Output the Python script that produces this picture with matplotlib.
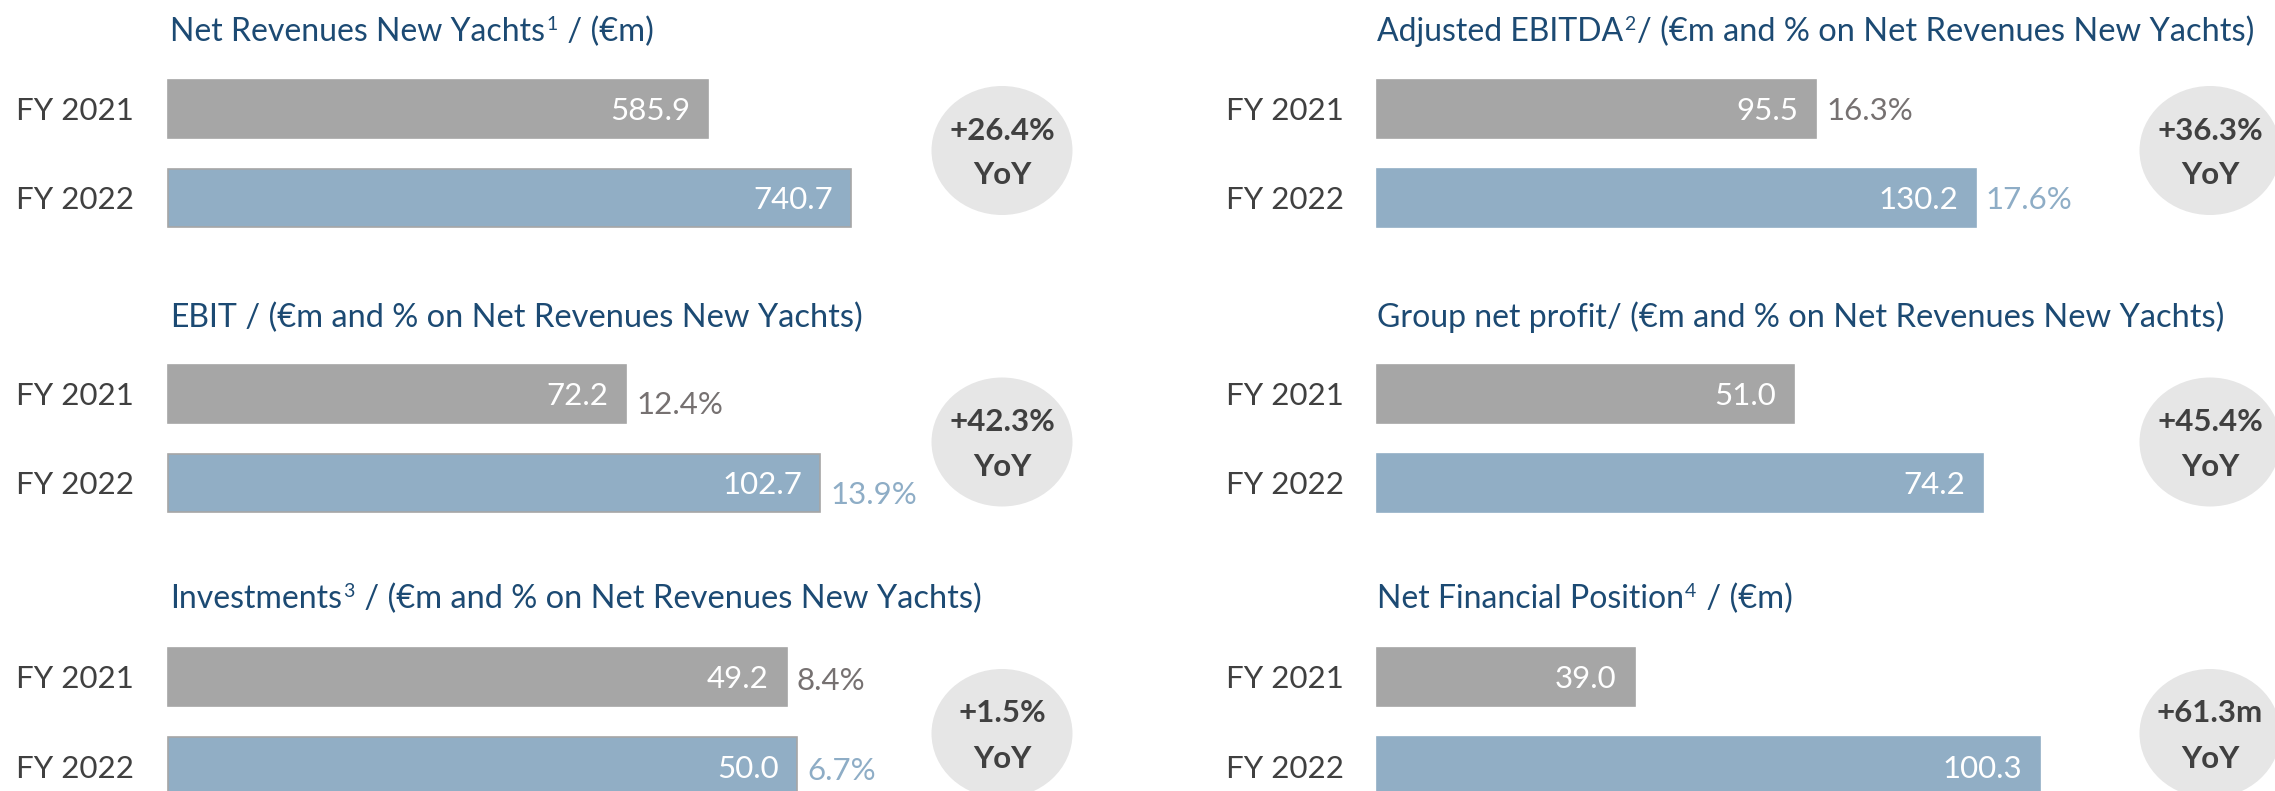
import matplotlib
matplotlib.use("Agg")
import matplotlib.pyplot as plt
import matplotlib.transforms as mtransforms
from matplotlib.patches import Ellipse

plt.rcParams['font.family'] = ['Lato', 'DejaVu Sans']

# KPI figures, FY 2021 vs FY 2022 (panels in reading order: left, right, next row)
titles = ["Net Revenues New Yachts", "Adjusted EBITDA", "EBIT",
          "Group net profit", "Investments", "Net Financial Position"]
notes = ["1", "2", "", "", "3", "4"]
units = [" / (€m)",
         "/ (€m and % on Net Revenues New Yachts)",
         " / (€m and % on Net Revenues New Yachts)",
         "/ (€m and % on Net Revenues New Yachts)",
         " / (€m and % on Net Revenues New Yachts)",
         " / (€m)"]
years = ["FY 2021", "FY 2022"]
values_2021 = [585.9, 95.5, 72.2, 51.0, 49.2, 39.0]
values_2022 = [740.7, 130.2, 102.7, 74.2, 50.0, 100.3]
margin_2021 = [None, 16.3, 12.4, None, 8.4, None]
margin_2022 = [None, 17.6, 13.9, None, 6.7, None]
yoy = ["+26.4%", "+36.3%", "+42.3%", "+45.4%", "+1.5%", "+61.3m"]

# colours
GRAY = "#A6A6A6"
BLUE = "#91AEC5"
NAVY = "#1C4A73"
TEXT = "#404040"
PCT_GRAY = "#767171"
PCT_BLUE = "#8EADC6"
BUBBLE = "#E6E6E6"

# layout in pixels
W_PX, H_PX = 2275, 791
FS = 22.5
bar_x = [168, 1377]
label_x = [16, 1226]
bubble_x = [1002, 2210]
row_center = [108.5, 394, 677]
title_base = [41, 327, 608]
bubble_y = [150.5, 442, 733.5]
STEP = 89
BAR_H = 58
AX_W = 700
px_per_unit = [0.9225, 4.60, 6.35, 8.17, 12.58, 6.61]
pct_drop = [0, 0, 9, 0, 2, 0]


def fx(px):
    return px / W_PX


def fy(py):
    return 1 - py / H_PX


fig = plt.figure(figsize=(W_PX / 100, H_PX / 100), dpi=100)
renderer = fig.canvas.get_renderer()


def draw_title(x, y, main, note, rest):
    t = fig.text(fx(x), fy(y), main, fontsize=23, color=NAVY,
                 va="baseline", ha="left")
    x = t.get_window_extent(renderer).x1
    if note:
        t = fig.text(fx(x + 1), fy(y - 11), note, fontsize=14, color=NAVY,
                     va="baseline", ha="left")
        x = t.get_window_extent(renderer).x1 + 2
    fig.text(fx(x), fy(y), rest, fontsize=23.5, color=NAVY,
             va="baseline", ha="left")


for i in range(6):
    row, col = divmod(i, 2)
    c0 = row_center[row]
    bottom = c0 + STEP * 1.5
    ax = fig.add_axes([fx(bar_x[col]), fy(bottom), AX_W / W_PX, 2 * STEP / H_PX])
    ax.set_xlim(0, AX_W / px_per_unit[i])
    ax.set_ylim(1.5, -0.5)
    ax.axis("off")

    vals = [values_2021[i], values_2022[i]]
    edge = GRAY if col == 0 else BLUE
    ax.barh([0, 1], vals, height=BAR_H / STEP, color=[GRAY, BLUE],
            edgecolor=[GRAY, edge], linewidth=1.2, clip_on=False)

    margins = [margin_2021[i], margin_2022[i]]
    trans = mtransforms.blended_transform_factory(fig.transFigure, ax.transData)
    trans = mtransforms.offset_copy(trans, fig=fig, y=-11.5, units="dots")
    for k, v in enumerate(vals):
        ax.text(fx(label_x[col]), k, years[k], transform=trans, fontsize=FS,
                color=TEXT, va="baseline", ha="left")
        ax.annotate(f"{v:.1f}", xy=(v, k), xytext=(-18, -11.5),
                    textcoords="offset pixels", ha="right", va="baseline",
                    color="white", fontsize=FS)
        if margins[k] is not None:
            ax.annotate(f"{margins[k]:.1f}%", xy=(v, k),
                        xytext=(10, -11.5 - pct_drop[i]),
                        textcoords="offset pixels", ha="left", va="baseline",
                        color=PCT_GRAY if k == 0 else PCT_BLUE,
                        fontsize=FS, annotation_clip=False)

    draw_title(bar_x[col] + 2 if col == 0 else bar_x[col], title_base[row],
               titles[i], notes[i], units[i])

    cx, cy = bubble_x[col], bubble_y[row]
    fig.add_artist(Ellipse((fx(cx), fy(cy)), 141 / W_PX, 129 / H_PX,
                           transform=fig.transFigure, facecolor=BUBBLE,
                           edgecolor="none"))
    fig.text(fx(cx), fy(cy - 11), yoy[i], fontsize=FS, fontweight="bold",
             color=TEXT, ha="center", va="baseline")
    fig.text(fx(cx), fy(cy + 34), "YoY", fontsize=FS, fontweight="bold",
             color=TEXT, ha="center", va="baseline")

fig.savefig("out.png", dpi=100)
